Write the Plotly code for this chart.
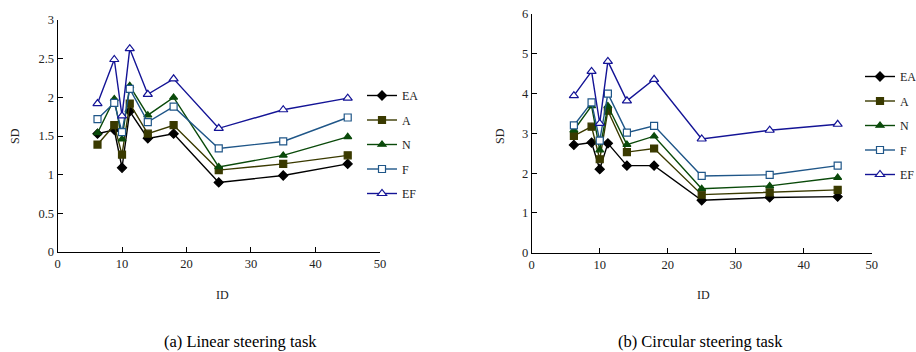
import plotly.graph_objects as go

# Index of difficulty for each steering condition
ids = [6.2, 8.8, 10, 11.2, 14, 18, 25, 35, 45]

series_names = ["EA", "A", "N", "F", "EF"]

# Standard deviation per condition, linear steering task
linear_sd = {
    "EA": [1.53, 1.58, 1.09, 1.82, 1.47, 1.53, 0.90, 0.99, 1.14],
    "A":  [1.39, 1.64, 1.26, 1.92, 1.53, 1.64, 1.06, 1.14, 1.25],
    "N":  [1.54, 1.98, 1.46, 2.15, 1.77, 2.00, 1.10, 1.25, 1.49],
    "F":  [1.72, 1.93, 1.55, 2.11, 1.68, 1.88, 1.34, 1.43, 1.74],
    "EF": [1.92, 2.49, 1.76, 2.63, 2.04, 2.24, 1.60, 1.84, 1.99],
}

# Standard deviation per condition, circular steering task
circular_sd = {
    "EA": [2.71, 2.77, 2.10, 2.75, 2.19, 2.19, 1.32, 1.39, 1.41],
    "A":  [2.94, 3.17, 2.35, 3.57, 2.53, 2.62, 1.46, 1.52, 1.58],
    "N":  [3.08, 3.69, 2.58, 3.69, 2.72, 2.93, 1.61, 1.68, 1.89],
    "F":  [3.20, 3.78, 2.82, 4.00, 3.02, 3.19, 1.93, 1.96, 2.19],
    "EF": [3.95, 4.56, 3.25, 4.81, 3.82, 4.36, 2.86, 3.08, 3.23],
}

x_ticks = [0, 10, 20, 30, 40, 50]
linear_y_ticks = [0, 0.5, 1, 1.5, 2, 2.5, 3]
circular_y_ticks = [0, 1, 2, 3, 4, 5, 6]

styles = {
    "EA": dict(color="#000000", symbol="diamond", fill="#000000", size=7),
    "A":  dict(color="#3a3a00", symbol="square", fill="#3a3a00", size=7),
    "N":  dict(color="#0a4a0a", symbol="triangle-up", fill="#0a4a0a", size=7),
    "F":  dict(color="#1f5688", symbol="square", fill="#ffffff", size=7),
    "EF": dict(color="#141496", symbol="triangle-up", fill="#ffffff", size=8),
}

FONT = "Liberation Serif"
TEXT = "#222222"

fig = go.Figure()

panels = [
    (linear_sd, "x", "y", "legend"),
    (circular_sd, "x2", "y2", "legend2"),
]
for data, xa, ya, leg in panels:
    for name in series_names:
        st = styles[name]
        fig.add_trace(go.Scatter(
            x=ids, y=data[name], name=name, mode="lines+markers",
            xaxis=xa, yaxis=ya, legend=leg, legendgroup=leg + name,
            line=dict(color=st["color"], width=1.4),
            marker=dict(symbol=st["symbol"], size=st["size"], color=st["fill"],
                        line=dict(color=st["color"], width=1.2)),
        ))

axis_common = dict(
    showgrid=False, zeroline=False, showline=True, linecolor="#000000",
    linewidth=1, ticks="inside", ticklen=5, tickcolor="#000000",
    tickfont=dict(family=FONT, size=12.5, color=TEXT),
)


def label(text, px, py, size=12, angle=0, color=TEXT):
    """Centred paper-space text placed by pixel position."""
    return dict(text=text, x=px / 916, y=1 - py / 352, xref="paper", yref="paper",
                xanchor="center", yanchor="middle", showarrow=False,
                textangle=angle, font=dict(family=FONT, size=size, color=color))


fig.update_layout(
    width=916, height=352,
    margin=dict(l=0, r=0, t=0, b=0, autoexpand=False),
    paper_bgcolor="#ffffff", plot_bgcolor="#ffffff",
    font=dict(family=FONT, size=12, color=TEXT),
    showlegend=True,
    xaxis=dict(domain=[0.0628, 0.4148], range=[0, 50], tickvals=x_ticks,
               anchor="y", **axis_common),
    yaxis=dict(domain=[0.284, 0.943], range=[0, 3], tickvals=linear_y_ticks,
               anchor="x", **axis_common),
    xaxis2=dict(domain=[0.5805, 0.9516], range=[0, 50], tickvals=x_ticks,
                anchor="y2", **axis_common),
    yaxis2=dict(domain=[0.282, 0.960], range=[0, 6], tickvals=circular_y_ticks,
                anchor="x2", **axis_common),
    legend=dict(x=362 / 916, y=1 - 81 / 352, xanchor="left", yanchor="top",
                bgcolor="rgba(0,0,0,0)", tracegroupgap=5.5, itemwidth=30,
                font=dict(family=FONT, size=12, color=TEXT)),
    legend2=dict(x=860 / 916, y=1 - 62 / 352, xanchor="left", yanchor="top",
                 bgcolor="rgba(0,0,0,0)", tracegroupgap=5.5, itemwidth=30,
                 font=dict(family=FONT, size=12, color=TEXT)),
    annotations=[
        label("SD", 15, 136, angle=-90),
        label("SD", 500, 136, angle=-90),
        label("ID", 222, 295),
        label("ID", 703, 295),
        label("(a) Linear steering task", 240, 341, size=16.5, color="#000000"),
        label("(b) Circular steering task", 700, 341, size=16.5, color="#000000"),
    ],
)

fig.write_html("out.html")
